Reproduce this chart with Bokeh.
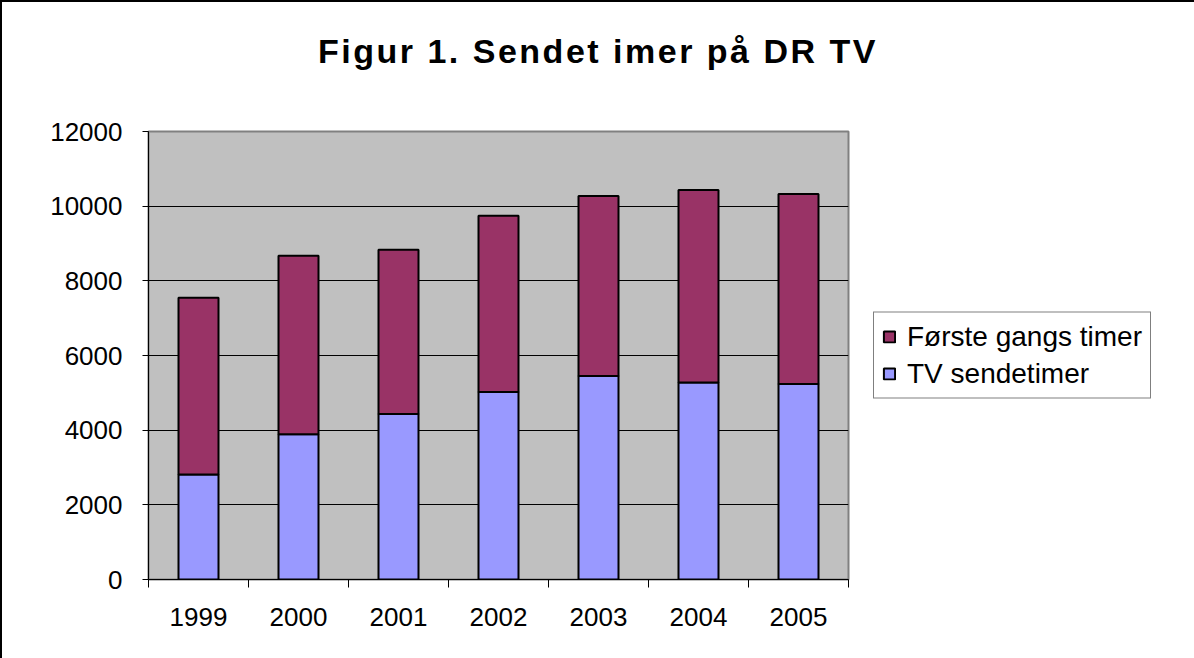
from bokeh.plotting import figure
from bokeh.models import (ColumnDataSource, FixedTicker, Legend, LegendItem, Range1d, Div)
from bokeh.layouts import column
from bokeh.embed import file_html
from bokeh.resources import INLINE

# ---- data ----
years = ["1999", "2000", "2001", "2002", "2003", "2004", "2005"]
tv_sendetimer = [2810, 3890, 4430, 5020, 5450, 5280, 5235]
forste_gangs_timer = [4735, 4780, 4400, 4725, 4825, 5155, 5090]
y_ticks = [0, 2000, 4000, 6000, 8000, 10000, 12000]
title_text = "Figur 1. Sendet imer på DR TV"
series_names = ["Første gangs timer", "TV sendetimer"]

FONT = "Liberation Sans"

xpos = [i + 0.5 for i in range(len(years))]
source = ColumnDataSource(dict(x=xpos, year=years,
                               tv=tv_sendetimer, forste=forste_gangs_timer))

# title as its own block above the chart
title_div = Div(
    text=('<div style="padding-top:25px; text-align:center; font-family:\'Liberation Sans\';'
          ' font-size:34px; font-weight:bold; letter-spacing:2.5px; color:black;'
          ' white-space:nowrap; width:1192px;">' + title_text + '</div>'),
    width=1192, height=100, margin=0)

p = figure(frame_width=700, frame_height=448, output_backend="svg", toolbar_location=None,
           x_range=Range1d(0, len(years)), y_range=Range1d(0, 12000),
           min_border_left=146, min_border_right=0,
           min_border_top=29, min_border_bottom=79, margin=0)
p.title.text = ""

p.background_fill_color = "#C0C0C0"
p.border_fill_color = "white"
p.outline_line_color = "#808080"
p.outline_line_width = 2

rs = p.vbar_stack(["tv", "forste"], x="x", width=0.4, source=source,
                  fill_color=["#9999FF", "#993366"], line_color="black",
                  line_width=2)

# grid
p.xgrid.grid_line_color = None
p.ygrid.grid_line_color = "black"
p.ygrid.grid_line_width = 1
p.ygrid.ticker = FixedTicker(ticks=y_ticks)

# y axis
p.yaxis.ticker = FixedTicker(ticks=y_ticks)
p.yaxis.axis_line_color = "black"
p.yaxis.major_tick_line_color = "black"
p.yaxis.major_tick_out = 6
p.yaxis.major_tick_in = 0
p.yaxis.minor_tick_line_color = None
p.yaxis.major_label_text_font = FONT
p.yaxis.major_label_text_font_size = "26px"
p.yaxis.major_label_text_color = "black"
p.yaxis.major_label_standoff = 20

# x axis: labels at centers, ticks at category boundaries
p.xaxis.ticker = FixedTicker(ticks=xpos, minor_ticks=list(range(len(years) + 1)))
p.xaxis.major_label_overrides = {x: y for x, y in zip(xpos, years)}
p.xaxis.axis_line_color = "black"
p.xaxis.major_tick_line_color = None
p.xaxis.major_tick_out = 0
p.xaxis.major_tick_in = 0
p.xaxis.minor_tick_line_color = "black"
p.xaxis.minor_tick_out = 8
p.xaxis.minor_tick_in = 0
p.xaxis.major_label_text_font = FONT
p.xaxis.major_label_text_font_size = "26px"
p.xaxis.major_label_text_color = "black"
p.xaxis.major_label_standoff = 20

# legend
legend = Legend(items=[LegendItem(label=series_names[0], renderers=[rs[1]]),
                       LegendItem(label=series_names[1], renderers=[rs[0]])],
                location="center_left")
legend.border_line_color = "black"
legend.border_line_width = 1
legend.background_fill_color = "white"
legend.background_fill_alpha = 1
legend.label_text_font = FONT
legend.label_text_font_size = "28px"
legend.label_text_color = "black"
legend.glyph_width = 14
legend.glyph_height = 14
legend.spacing = 5
legend.padding = 8
legend.margin = 25
legend.label_standoff = 11
p.add_layout(legend, "right")

layout = column(title_div, p, spacing=0)
layout.styles = {"border-left": "2px solid black", "border-top": "2px solid black",
                 "background-color": "white"}

open("out.html", "w").write(file_html(layout, INLINE))
